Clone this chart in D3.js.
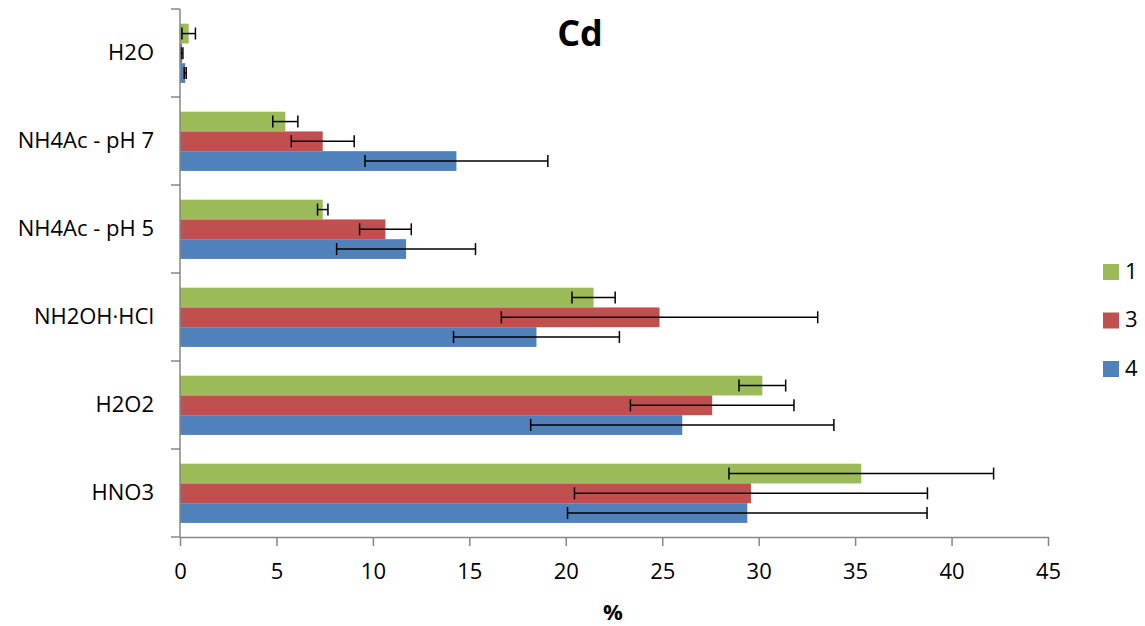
<!DOCTYPE html>
<html><head><meta charset="utf-8">
<script src="https://cdn.jsdelivr.net/npm/d3@7"></script>
<style>body{margin:0;background:#fff}</style>
</head><body>
<svg id="c" width="1145" height="626"></svg>
<script>
const categories = ["H2O", "NH4Ac - pH 7", "NH4Ac - pH 5", "NH2OH·HCl", "H2O2", "HNO3"];
const seriesNames = ["1", "3", "4"];
const seriesColors = ["#9BBB59", "#C0504D", "#4F81BD"];
const values1 = [0.45, 5.46, 7.40, 21.44, 30.19, 35.32];
const values3 = [0.10, 7.40, 10.65, 24.86, 27.59, 29.60];
const values4 = [0.27, 14.33, 11.72, 18.48, 26.04, 29.41];
const errors1 = [0.35, 0.65, 0.27, 1.12, 1.21, 6.86];
const errors3 = [0.05, 1.63, 1.34, 8.20, 4.24, 9.15];
const errors4 = [0.05, 4.74, 3.60, 4.30, 7.86, 9.32];
const xTicks = [0, 5, 10, 15, 20, 25, 30, 35, 40, 45];
const title = "Cd";
const xTitle = "%";

const values = [values1, values3, values4];
const errors = [errors1, errors3, errors4];

const svg = d3.select("#c");
const font = "'Open Sans', sans-serif";
const x = d3.scaleLinear().domain([0, 45]).range([180, 1048]);
const y = d3.scaleBand().domain(categories).range([9, 537]).padding(0);
const bw = y.bandwidth();
const ys = d3.scaleBand().domain(seriesNames).range([bw * 0.167, bw * 0.84]).padding(0);

// bars
seriesNames.forEach((s, si) => {
  const g = svg.append("g");
  categories.forEach((c, ci) => {
    const v = values[si][ci];
    const y0 = y(c) + ys(s);
    g.append("rect")
      .attr("x", x(0)).attr("y", y0)
      .attr("width", x(v) - x(0)).attr("height", ys.bandwidth())
      .attr("fill", seriesColors[si]);
  });
});
// error bars
seriesNames.forEach((s, si) => {
  const g = svg.append("g").attr("stroke", "#000").attr("stroke-width", 1.5);
  categories.forEach((c, ci) => {
    const v = values[si][ci], e = errors[si][ci];
    const yc = y(c) + ys(s) + ys.bandwidth() / 2;
    const x1 = x(Math.max(0, v - e)), x2 = x(v + e);
    g.append("line").attr("x1", x1).attr("x2", x2).attr("y1", yc).attr("y2", yc);
    g.append("line").attr("x1", x1).attr("x2", x1).attr("y1", yc - 6).attr("y2", yc + 6);
    g.append("line").attr("x1", x2).attr("x2", x2).attr("y1", yc - 6).attr("y2", yc + 6);
  });
});

// x axis
const xAxis = svg.append("g").attr("transform", "translate(0,537)")
  .call(d3.axisBottom(x).tickValues(xTicks).tickSize(9).tickPadding(17).tickSizeOuter(0));
xAxis.select(".domain").attr("stroke", "#868686").attr("stroke-width", 1.5);
xAxis.selectAll(".tick line").attr("stroke", "#868686").attr("stroke-width", 1.5);
xAxis.selectAll("text").attr("font-family", font).attr("font-size", 22).attr("fill", "#000");

// y axis
const yAxisG = svg.append("g").attr("transform", "translate(180,0)");
yAxisG.append("line").attr("x1", 0).attr("x2", 0).attr("y1", 9).attr("y2", 537)
  .attr("stroke", "#868686").attr("stroke-width", 1.5);
const bounds = categories.map(c => y(c)).concat([537]);
yAxisG.selectAll("line.tk").data(bounds).join("line").attr("class", "tk")
  .attr("x1", -9).attr("x2", 0).attr("y1", d => d).attr("y2", d => d)
  .attr("stroke", "#868686").attr("stroke-width", 1.5);
svg.append("g").selectAll("text").data(categories).join("text")
  .attr("x", 154).attr("y", d => y(d) + bw / 2 + 1)
  .attr("text-anchor", "end").attr("dominant-baseline", "middle")
  .attr("font-family", font).attr("font-size", 22).attr("fill", "#000")
  .text(d => d);

// title
svg.append("text").attr("x", 580).attr("y", 46).attr("text-anchor", "middle")
  .attr("font-family", font).attr("font-weight", "bold").attr("font-size", 36)
  .text(title);
svg.append("text").attr("x", 613).attr("y", 620).attr("text-anchor", "middle")
  .attr("font-family", font).attr("font-weight", "bold").attr("font-size", 22)
  .text(xTitle);

// legend
const leg = svg.append("g");
seriesNames.forEach((s, i) => {
  const cy = 272 + i * 48.5;
  leg.append("rect").attr("x", 1103).attr("y", cy - 8).attr("width", 16).attr("height", 16)
    .attr("fill", seriesColors[i]);
  leg.append("text").attr("x", 1125).attr("y", cy + 1).attr("dominant-baseline", "middle")
    .attr("font-family", font).attr("font-size", 22).text(s);
});
</script>
</body></html>
